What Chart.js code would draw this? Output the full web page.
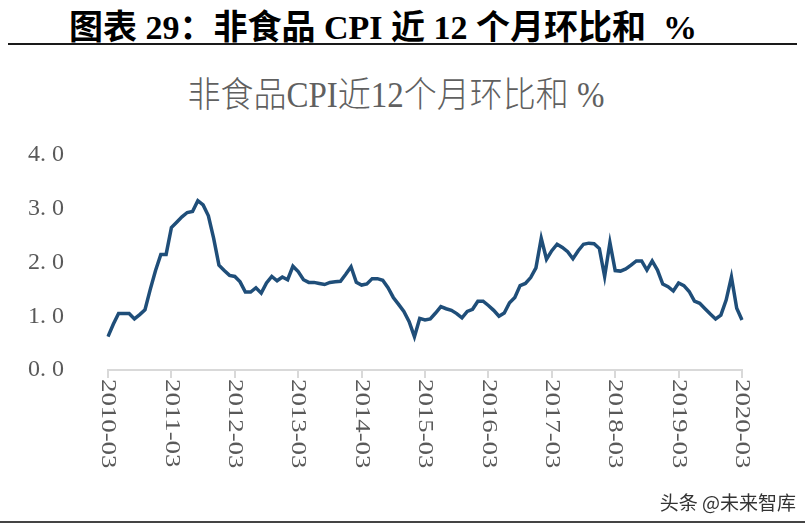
<!DOCTYPE html>
<html>
<head>
<meta charset="utf-8">
<script src="https://cdn.jsdelivr.net/npm/chart.js@4/dist/chart.umd.min.js"></script>
<style>
  body { margin: 0; width: 805px; height: 528px; background: #fff; position: relative; overflow: hidden; }
  #heading { position: absolute; left: 0; top: 0px; width: 766px; text-align: center;
    font: bold 34px "Liberation Serif", "Noto Sans CJK SC", serif; color: #000; white-space: nowrap; }
  #rule-top { position: absolute; left: 8px; top: 43px; width: 789px; height: 2px; background: #1a1a1a; }
  #chart-title { position: absolute; left: 0; top: 68px; width: 792px; text-align: center;
    font: 300 33px "Liberation Serif", "Noto Sans CJK SC", serif; color: #606060; white-space: nowrap;
    transform: scaleY(1.08); }
  #watermark { position: absolute; right: 9px; top: 488px; font: 19px "Noto Sans CJK SC", sans-serif; color: #333; }
  #rule-bottom { position: absolute; left: 0; top: 521px; width: 805px; height: 2px; background: #444; }
  canvas { position: absolute; left: 0; top: 0; }
</style>
</head>
<body>
<div id="heading">图表 29：非食品 CPI 近 12 个月环比和&nbsp; %</div>
<div id="rule-top"></div>
<div id="chart-title">非食品CPI近12个月环比和 %</div>
<canvas id="chart" width="805" height="528"></canvas>
<div id="watermark">头条 @未来智库</div>
<div id="rule-bottom"></div>
<script>
// 2010-03 .. 2020-03, monthly
const startYear = 2010;
const startMonth = 3;
const monthCount = 121;

// 非食品CPI近12个月环比和, %
const nonFoodCpi = [
    0.62, 0.85, 1.05, 1.05, 1.05, 0.95, 1.03, 1.12, 1.50, 1.85, 2.15, 2.15,
    2.65, 2.75, 2.85, 2.93, 2.95, 3.15, 3.07, 2.87, 2.45, 1.95, 1.85, 1.76,
    1.74, 1.64, 1.45, 1.45, 1.53, 1.43, 1.62, 1.74, 1.66, 1.73, 1.68, 1.93,
    1.83, 1.68, 1.63, 1.63, 1.61, 1.59, 1.63, 1.64, 1.65, 1.78, 1.92, 1.63,
    1.58, 1.60, 1.70, 1.70, 1.67, 1.53, 1.35, 1.22, 1.09, 0.90, 0.62, 0.96,
    0.93, 0.95, 1.06, 1.18, 1.14, 1.11, 1.05, 0.97, 1.09, 1.13, 1.28, 1.28,
    1.20, 1.11, 1.00, 1.06, 1.25, 1.35, 1.57, 1.61, 1.72, 1.90, 2.45, 2.06,
    2.22, 2.34, 2.28, 2.20, 2.07, 2.22, 2.34, 2.36, 2.35, 2.26, 1.74, 2.37,
    1.85, 1.84, 1.88, 1.95, 2.03, 2.03, 1.86, 2.03, 1.86, 1.60, 1.55, 1.47,
    1.62, 1.57, 1.46, 1.28, 1.24, 1.14, 1.04, 0.95, 1.02, 1.30, 1.73, 1.15,
    0.93
];

const yTicks = [0, 1, 2, 3, 4];

const months = [];
for (let i = 0; i < monthCount; i++) {
    const m = startMonth - 1 + i;
    const y = startYear + Math.floor(m / 12);
    months.push(y + "-" + String(m % 12 + 1).padStart(2, "0"));
}

// x labels read top to bottom, so draw them by hand
const verticalLabels = {
    id: "verticalLabels",
    afterDraw(chart) {
        const ctx = chart.ctx;
        const xScale = chart.scales.x;
        ctx.save();
        ctx.fillStyle = "#595959";
        ctx.font = '22px "Liberation Serif"';
        ctx.textAlign = "left";
        ctx.textBaseline = "middle";
        for (let i = 0; i < months.length; i += 12) {
            const x = xScale.getPixelForValue(i);
            ctx.save();
            ctx.translate(x, xScale.top + 9);
            ctx.rotate(Math.PI / 2);
            ctx.scale(1.22, 1);
            ctx.fillText(months[i], 0, 0);
            ctx.restore();
        }
        ctx.restore();
    }
};

new Chart(document.getElementById("chart"), {
    type: "line",
    data: {
        labels: months,
        datasets: [{
            data: nonFoodCpi,
            borderColor: "#1f4e79",
            borderWidth: 3.5,
            pointRadius: 0,
            tension: 0,
            fill: false
        }]
    },
    options: {
        responsive: false,
        animation: false,
        layout: {padding: {top: 155, right: 63, left: 0, bottom: 0}},
        plugins: {legend: {display: false}, tooltip: {enabled: false}, title: {display: false}},
        scales: {
            x: {
                offset: false,
                afterFit: (scale) => { scale.height = 158; },
                grid: {
                    drawOnChartArea: false,
                    tickLength: 8,
                    lineWidth: 2,
                    color: (c) => c.index % 12 === 0 ? "#d9d9d9" : "transparent"
                },
                border: {color: "#d9d9d9", width: 2},
                ticks: {display: false, autoSkip: false}
            },
            y: {
                min: 0,
                max: 4,
                afterFit: (scale) => { scale.width = 108; },
                afterBuildTicks: (scale) => { scale.ticks = yTicks.map(v => ({value: v})); },
                grid: {display: false},
                border: {display: false},
                ticks: {
                    padding: 36,
                    color: "#595959",
                    font: {family: "Liberation Serif", size: 24},
                    callback: (v) => v.toFixed(1).replace(".", ". ")
                }
            }
        }
    },
    plugins: [verticalLabels]
});
</script>
</body>
</html>
